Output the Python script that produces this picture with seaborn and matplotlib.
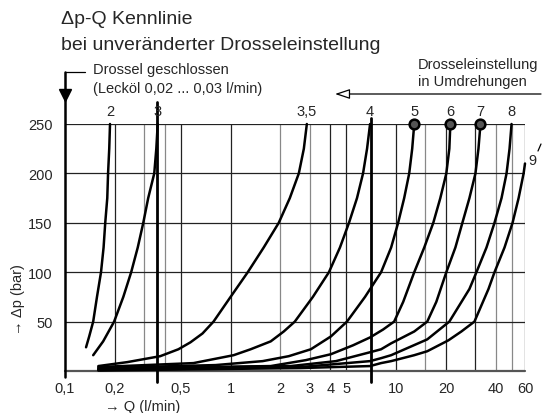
import matplotlib
matplotlib.use("Agg")
import matplotlib.pyplot as plt
from matplotlib.lines import Line2D
from matplotlib.ticker import FixedLocator, FixedFormatter, NullLocator
import numpy as np
import pandas as pd
import seaborn as sns

# throttle settings (turns) and the dp-Q points
settings = ["2", "3", "3,5", "4", "5", "6", "7", "8", "9"]

q_2 = [0.134, 0.140, 0.148, 0.156, 0.165, 0.171, 0.175, 0.180, 0.182, 0.185, 0.187]
p_2 = [24, 35, 50, 75, 100, 125, 150, 175, 200, 225, 250]

q_3 = [0.148, 0.170, 0.198, 0.225, 0.251, 0.275, 0.297, 0.318, 0.346, 0.356, 0.363]
p_3 = [16, 30, 50, 75, 100, 125, 150, 175, 200, 225, 250]

q_35 = [0.159, 0.238, 0.376, 0.484, 0.572, 0.677, 0.789, 1.0, 1.27, 1.585, 1.954, 2.279, 2.583, 2.770, 2.888]
p_35 = [5, 9, 15, 22, 29, 38, 50, 75, 100, 125, 150, 175, 200, 225, 250]

q_4 = [0.159, 0.597, 1.043, 1.322, 1.748, 2.095, 2.443, 3.141, 3.926, 4.577, 5.190, 5.801, 6.310, 6.672, 6.958]
p_4 = [4, 8, 16, 22, 30, 40, 50, 75, 100, 125, 150, 175, 200, 225, 250]

q_5 = [0.159, 0.811, 1.563, 2.246, 3.053, 4.037, 5.047, 6.486, 8.111, 9.326, 10.28, 11.18, 11.99, 12.50, 12.86]
p_5 = [3, 6, 10, 15, 22, 35, 50, 75, 100, 125, 150, 175, 200, 225, 250]

q_6 = [0.159, 1.748, 2.848, 4.037, 5.489, 6.958, 8.343, 9.725, 11.03, 12.86, 14.78, 16.76, 18.48, 20.09, 20.95, 21.25]
p_6 = [2.3, 5, 11, 17, 26, 34, 42, 50, 70, 100, 125, 150, 175, 200, 225, 250]

q_7 = [0.159, 2.310, 4.329, 6.958, 8.111, 9.326, 12.86, 15.41, 17.48, 20.09, 22.79, 25.12, 27.70, 30.12, 31.41, 32.30]
p_7 = [1.6, 5, 10, 19, 22, 28, 40, 50, 70, 100, 125, 150, 175, 200, 225, 250]

q_8 = [0.159, 2.658, 6.958, 8.111, 9.326, 15.41, 20.95, 27.70, 30.54, 35.12, 39.26, 43.29, 46.42, 48.40, 49.77]
p_8 = [1, 4, 10, 13, 16, 32, 50, 83, 100, 125, 150, 175, 200, 225, 250]

q_9 = [0.159, 2.658, 6.958, 8.111, 9.326, 12.86, 15.41, 20.66, 24.77, 29.70, 36.11, 39.26, 45.13, 50.47, 54.89, 58.85, 60.0]
p_9 = [0.5, 3, 5, 8, 10, 16, 20, 31, 40, 50, 83, 100, 125, 150, 175, 200, 210]

curves_q = [q_2, q_3, q_35, q_4, q_5, q_6, q_7, q_8, q_9]
curves_p = [p_2, p_3, p_35, p_4, p_5, p_6, p_7, p_8, p_9]

x_ticks = [0.1, 0.2, 0.3, 0.4, 0.5, 1, 2, 3, 4, 5, 10, 15, 20, 30, 40, 50, 60]
x_labels = ["0,1", "0,2", "", "", "0,5", "1", "2", "3", "4", "5", "10", "", "20", "", "40", "", "60"]
y_ticks = [50, 100, 150, 200, 250]

rows = []
for name, qs, ps in zip(settings, curves_q, curves_p):
    for q, p in zip(qs, ps):
        rows.append({"Q": q, "dp": p, "setting": name})
df = pd.DataFrame(rows)

sns.set_style("white")
plt.rcParams["font.family"] = ["Liberation Sans", "DejaVu Sans"]

W, H = 544, 414
fig = plt.figure(figsize=(W / 100, H / 100), dpi=100)
ax = fig.add_axes([65 / W, 1 - 372 / H, 460 / W, 247 / H])
ax.set_xscale("log")
ax.set_xlim(0.1, 60)
ax.set_ylim(0, 250)

# grid
dark_x = [0.2, 0.5, 1, 4, 5, 10, 20, 30, 60]
light_x = [0.3, 0.4, 2, 3, 15, 40, 50]
for x in dark_x:
    ax.axvline(x, color="#222222", lw=0.9, zorder=1)
for x in light_x:
    ax.axvline(x, color="#888888", lw=0.9, zorder=1)
for y in y_ticks:
    ax.axhline(y, color="#222222", lw=0.9, zorder=1)

sns.lineplot(data=df, x="Q", y="dp", units="setting", estimator=None, sort=False,
             color="black", lw=1.8, ax=ax, zorder=3)
for line in ax.lines[-len(settings):]:
    line.set_clip_on(False)
    line.set_solid_joinstyle("round")

# thick throttle lines for setting 3 and 4
ax.plot([0.357, 0.357], [-11, 272], color="black", lw=2.0, clip_on=False, zorder=3)
ax.plot([7.0, 7.0], [-11, 256], color="black", lw=2.0, clip_on=False, zorder=3)

# markers at the top of 5, 6, 7
for i in [4, 5, 6]:
    ax.plot(curves_q[i][-1], curves_p[i][-1], marker="o", ms=7, mfc="#555555",
            mec="black", mew=1.8, clip_on=False, zorder=4)

# curve labels
for name, qs, ps in zip(settings[:-1], curves_q[:-1], curves_p[:-1]):
    ax.text(qs[-1], 263, name, ha="center", va="center", fontsize=10.5, clip_on=False)
ax.text(67, 214, settings[-1], ha="center", va="center", fontsize=10.5, clip_on=False)

# axes lines
ax.axhline(0, color="#555555", lw=1.6, clip_on=False, zorder=2)
ax.plot([0.1, 0.1], [-6, 303], color="black", lw=1.8, clip_on=False, zorder=3)
ax.plot([0.1], [279], marker="v", ms=8, color="black", clip_on=False, zorder=4)
ax.plot([0.1, 0.132], [303, 303], color="black", lw=0.9, clip_on=False)

for s in ax.spines.values():
    s.set_visible(False)

ax.xaxis.set_major_locator(FixedLocator(x_ticks))
ax.xaxis.set_major_formatter(FixedFormatter(x_labels))
ax.xaxis.set_minor_locator(NullLocator())
ax.set_yticks(y_ticks)
ax.set_yticklabels([str(v) for v in y_ticks])
ax.tick_params(axis="x", length=5, width=0.9, color="#444444", pad=2, labelsize=10.5)
ax.tick_params(axis="y", length=0, pad=9, labelsize=10.5)
ax.set_xlabel("")
ax.set_ylabel("")

def fx(px):
    return px / W

def fy(py):
    return 1 - py / H

fig.text(fx(61), fy(20), "Δp-Q Kennlinie", fontsize=14, ha="left", va="center")
fig.text(fx(61), fy(46), "bei unveränderter Drosseleinstellung", fontsize=14, ha="left", va="center")
fig.text(fx(93), fy(70), "Drossel geschlossen", fontsize=10.5, ha="left", va="center")
fig.text(fx(93), fy(89), "(Lecköl 0,02 ... 0,03 l/min)", fontsize=10.5, ha="left", va="center")
fig.text(fx(418), fy(65), "Drosseleinstellung", fontsize=10.5, ha="left", va="center")
fig.text(fx(418), fy(82), "in Umdrehungen", fontsize=10.5, ha="left", va="center")
fig.text(fx(18), fy(300), "→ Δp (bar)", fontsize=10.5, rotation=90, ha="center", va="center")
fig.text(fx(105), fy(407), "→ Q (l/min)", fontsize=10.5, ha="left", va="center")

ax.annotate("", xy=(335, H - 95), xycoords="figure pixels",
            xytext=(541, H - 95), textcoords="figure pixels",
            arrowprops=dict(arrowstyle="-|>,head_length=0.9,head_width=0.3",
                            fc="white", ec="black", lw=0.9, shrinkA=0, shrinkB=0))
fig.add_artist(Line2D([fx(538), fx(541)], [fy(152), fy(145)], color="black", lw=0.9))

fig.savefig("out.png", dpi=100)
